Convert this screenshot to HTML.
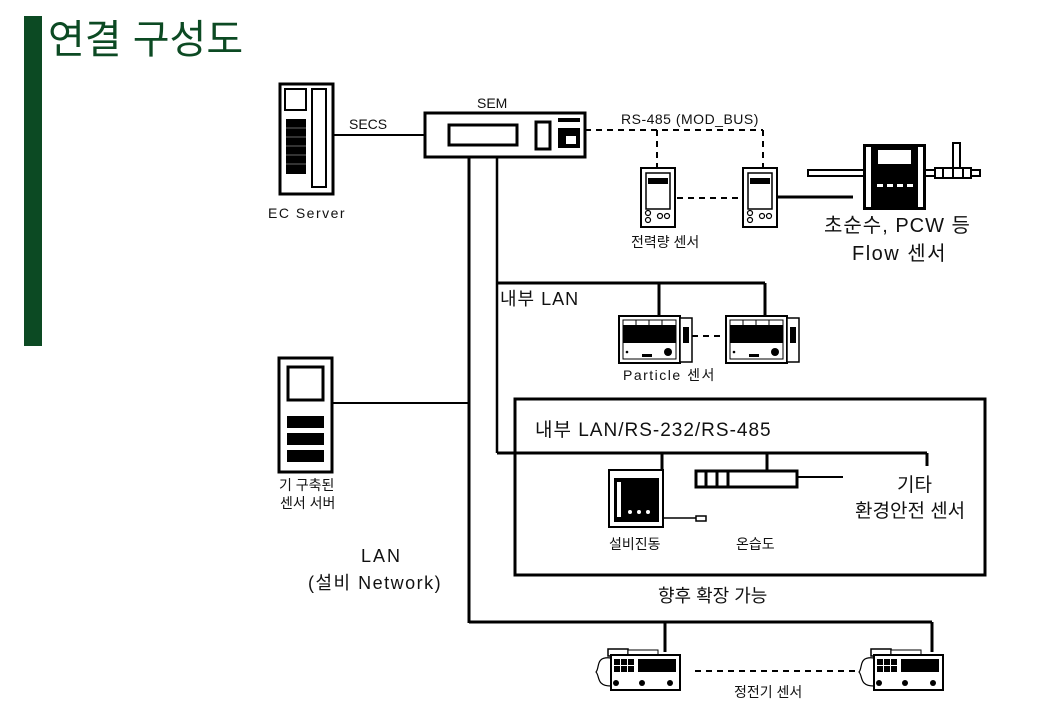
<!DOCTYPE html>
<html><head><meta charset="utf-8"><style>
html,body{margin:0;padding:0;background:#fff}
svg{display:block}
text{font-family:"Liberation Sans","Noto Sans CJK KR",sans-serif;fill:#111}
</style></head><body>
<svg width="1040" height="720" viewBox="0 0 1040 720" xmlns="http://www.w3.org/2000/svg">
<rect x="24" y="16" width="18" height="330" fill="#0c4a23"/>
<text x="48" y="53" font-size="40" style="fill:#0c4a23" font-family="Noto Sans CJK KR, sans-serif">연결 구성도</text>

<g fill="none" stroke="#000">
<rect x="280" y="84" width="53" height="110" stroke-width="3"/>
<rect x="285" y="89" width="21" height="21" stroke-width="2"/>
<rect x="312" y="89" width="14" height="98" stroke-width="2"/>
<line x1="333" y1="135" x2="425" y2="135" stroke-width="2"/>
<rect x="425" y="113" width="160" height="44" stroke-width="3"/>
<rect x="449" y="125" width="68" height="20" stroke-width="3"/>
<rect x="536" y="122" width="14" height="27" stroke-width="3"/>
<line x1="469" y1="157" x2="469" y2="623" stroke-width="3"/>
<line x1="497" y1="157" x2="497" y2="453" stroke-width="2.5"/>
<path d="M585 130 H763 M657 130 V168 M763 130 V168" stroke-width="2" stroke-dasharray="6,5"/>
<rect x="641" y="168" width="34" height="59" stroke-width="2"/>
<rect x="646" y="173" width="24" height="36" stroke-width="1.5"/>
<rect x="743" y="168" width="34" height="59" stroke-width="2"/>
<rect x="748" y="173" width="24" height="36" stroke-width="1.5"/>
<line x1="677" y1="198" x2="741" y2="198" stroke-width="2" stroke-dasharray="6,5"/>
<line x1="777" y1="197" x2="853" y2="197" stroke-width="3"/>
<path d="M497 283 H765 M659 283 V316 M765 283 V316" stroke-width="3"/>
<line x1="692" y1="336" x2="723" y2="336" stroke-width="2" stroke-dasharray="6,5"/>
<rect x="279" y="358" width="53" height="114" stroke-width="3"/>
<rect x="288" y="367" width="35" height="33" stroke-width="3"/>
<line x1="332" y1="403" x2="469" y2="403" stroke-width="2"/>
<rect x="515" y="399" width="470" height="176" stroke-width="3"/>
<path d="M497 453 H927 M662 453 V470 M767 453 V471 M927 453 V466" stroke-width="3"/>
<rect x="609" y="470" width="54" height="57" stroke-width="2"/>
<line x1="663" y1="518" x2="696" y2="518" stroke-width="1.5"/>
<rect x="696" y="516" width="10" height="5" stroke-width="1.5"/>
<rect x="696" y="471" width="101" height="16" stroke-width="3"/>
<path d="M706 471 V487 M717 471 V487 M728 471 V487" stroke-width="3"/>
<line x1="797" y1="477" x2="843" y2="477" stroke-width="2"/>
<path d="M469 622 H932 M665 622 V652 M932 622 V652" stroke-width="3"/>
<line x1="695" y1="671" x2="855" y2="671" stroke-width="2" stroke-dasharray="6,5"/>
</g>

<g fill="#000">
<rect x="286" y="119" width="20" height="55"/>
<g stroke="#888" stroke-width="0.8"><line x1="286" y1="128" x2="306" y2="128"/><line x1="286" y1="137" x2="306" y2="137"/><line x1="286" y1="146" x2="306" y2="146"/><line x1="286" y1="155" x2="306" y2="155"/><line x1="286" y1="164" x2="306" y2="164"/></g>
<rect x="558" y="118" width="22" height="4"/>
<rect x="558" y="128" width="22" height="20"/>
<rect x="566" y="136" width="10" height="8" fill="#fff"/>
<rect x="648" y="178" width="20" height="6"/><rect x="750" y="178" width="20" height="6"/>
<rect x="287" y="416" width="37" height="12"/><rect x="287" y="433" width="37" height="12"/><rect x="287" y="450" width="37" height="12"/>
<rect x="614" y="478" width="45" height="44"/>
<rect x="617" y="482" width="4" height="35" fill="#fff"/>
<circle cx="630" cy="512" r="2" fill="#fff"/><circle cx="639" cy="512" r="2" fill="#fff"/><circle cx="648" cy="512" r="2" fill="#fff"/>
</g>
<g fill="none" stroke="#000" stroke-width="1.2">
<circle cx="648" cy="213" r="2.5"/><circle cx="648" cy="220" r="2.5"/><circle cx="660" cy="216" r="2.5"/><circle cx="667" cy="216" r="2.5"/>
<circle cx="750" cy="213" r="2.5"/><circle cx="750" cy="220" r="2.5"/><circle cx="762" cy="216" r="2.5"/><circle cx="769" cy="216" r="2.5"/>
</g>

<rect x="808" y="170" width="172" height="6" fill="#fff" stroke="#000" stroke-width="2"/>
<rect x="863" y="144" width="63" height="66" fill="#000"/>
<rect x="866" y="147" width="5" height="60" fill="#fff"/><rect x="918" y="147" width="5" height="60" fill="#fff"/>
<rect x="878" y="150" width="33" height="14" fill="#fff"/>
<g fill="#fff"><rect x="877" y="184" width="6" height="3"/><rect x="887" y="184" width="6" height="3"/><rect x="897" y="184" width="6" height="3"/><rect x="907" y="184" width="6" height="3"/></g>
<rect x="953" y="143" width="7" height="26" fill="#fff" stroke="#000" stroke-width="2"/>
<rect x="935" y="168" width="36" height="10" fill="#fff" stroke="#000" stroke-width="2"/>
<path d="M943 168 V178 M953 168 V178 M963 168 V178" stroke="#000" stroke-width="2"/>

<g id="p1">
<rect x="619" y="316" width="61" height="47" fill="#fff" stroke="#000" stroke-width="2"/>
<rect x="680" y="318" width="12" height="44" fill="#fff" stroke="#000" stroke-width="1.5"/>
<rect x="683" y="327" width="6" height="16" fill="#000"/>
<rect x="623" y="320" width="53" height="39" fill="none" stroke="#000" stroke-width="1"/>
<rect x="623" y="325" width="53" height="18" fill="#000"/>
<path d="M636 320 V325 M649 320 V325 M662 320 V325" stroke="#000"/>
<circle cx="627" cy="352" r="1.3"/><rect x="642" y="354" width="10" height="3"/><circle cx="668" cy="352" r="4"/>
</g>
<use href="#p1" x="107" y="0"/>

<g id="e1">
<rect x="608" y="649" width="20" height="7" fill="#fff" stroke="#000" stroke-width="1.5"/>
<rect x="628" y="650" width="30" height="6" fill="#fff" stroke="#000" stroke-width="1"/>
<rect x="611" y="655" width="69" height="35" fill="#fff" stroke="#000" stroke-width="2"/>
<path d="M611 658 C595 656 600 668 596 672 C600 676 596 686 611 686" fill="none" stroke="#000" stroke-width="1.2"/>
<rect x="614" y="659" width="6" height="6"/><rect x="621" y="659" width="6" height="6"/><rect x="628" y="659" width="6" height="6"/>
<rect x="614" y="666" width="6" height="6"/><rect x="621" y="666" width="6" height="6"/><rect x="628" y="666" width="6" height="6"/>
<rect x="638" y="659" width="38" height="13"/>
<circle cx="616" cy="683" r="3"/><circle cx="642" cy="683" r="3"/><circle cx="670" cy="683" r="3"/>
</g>
<use href="#e1" x="263" y="0"/>

<text x="268" y="218" font-size="14" letter-spacing="1.5">EC Server</text>
<text x="349" y="129" font-size="14">SECS</text>
<text x="477" y="108" font-size="14">SEM</text>
<text x="621" y="124" font-size="14" letter-spacing="0.5">RS-485 (MOD_BUS)</text>
<text x="631" y="247" font-size="14">전력량 센서</text>
<text x="824" y="232" font-size="20" letter-spacing="1">초순수, PCW 등</text>
<text x="852" y="260" font-size="20" letter-spacing="1.5">Flow 센서</text>
<text x="500" y="305" font-size="18" letter-spacing="1">내부 LAN</text>
<text x="623" y="380" font-size="14" letter-spacing="1.5">Particle 센서</text>
<text x="279" y="490" font-size="14">기 구축된</text>
<text x="280" y="508" font-size="14">센서 서버</text>
<text x="535" y="436" font-size="19" letter-spacing="1">내부 LAN/RS-232/RS-485</text>
<text x="897" y="491" font-size="19">기타</text>
<text x="855" y="517" font-size="19">환경안전 센서</text>
<text x="609" y="549" font-size="14">설비진동</text>
<text x="736" y="549" font-size="14">온습도</text>
<text x="658" y="602" font-size="18">향후 확장 가능</text>
<text x="361" y="562" font-size="18" letter-spacing="2">LAN</text>
<text x="308" y="589" font-size="18" letter-spacing="1.5">(설비 Network)</text>
<text x="734" y="697" font-size="14">정전기 센서</text>
</svg>
</body></html>
